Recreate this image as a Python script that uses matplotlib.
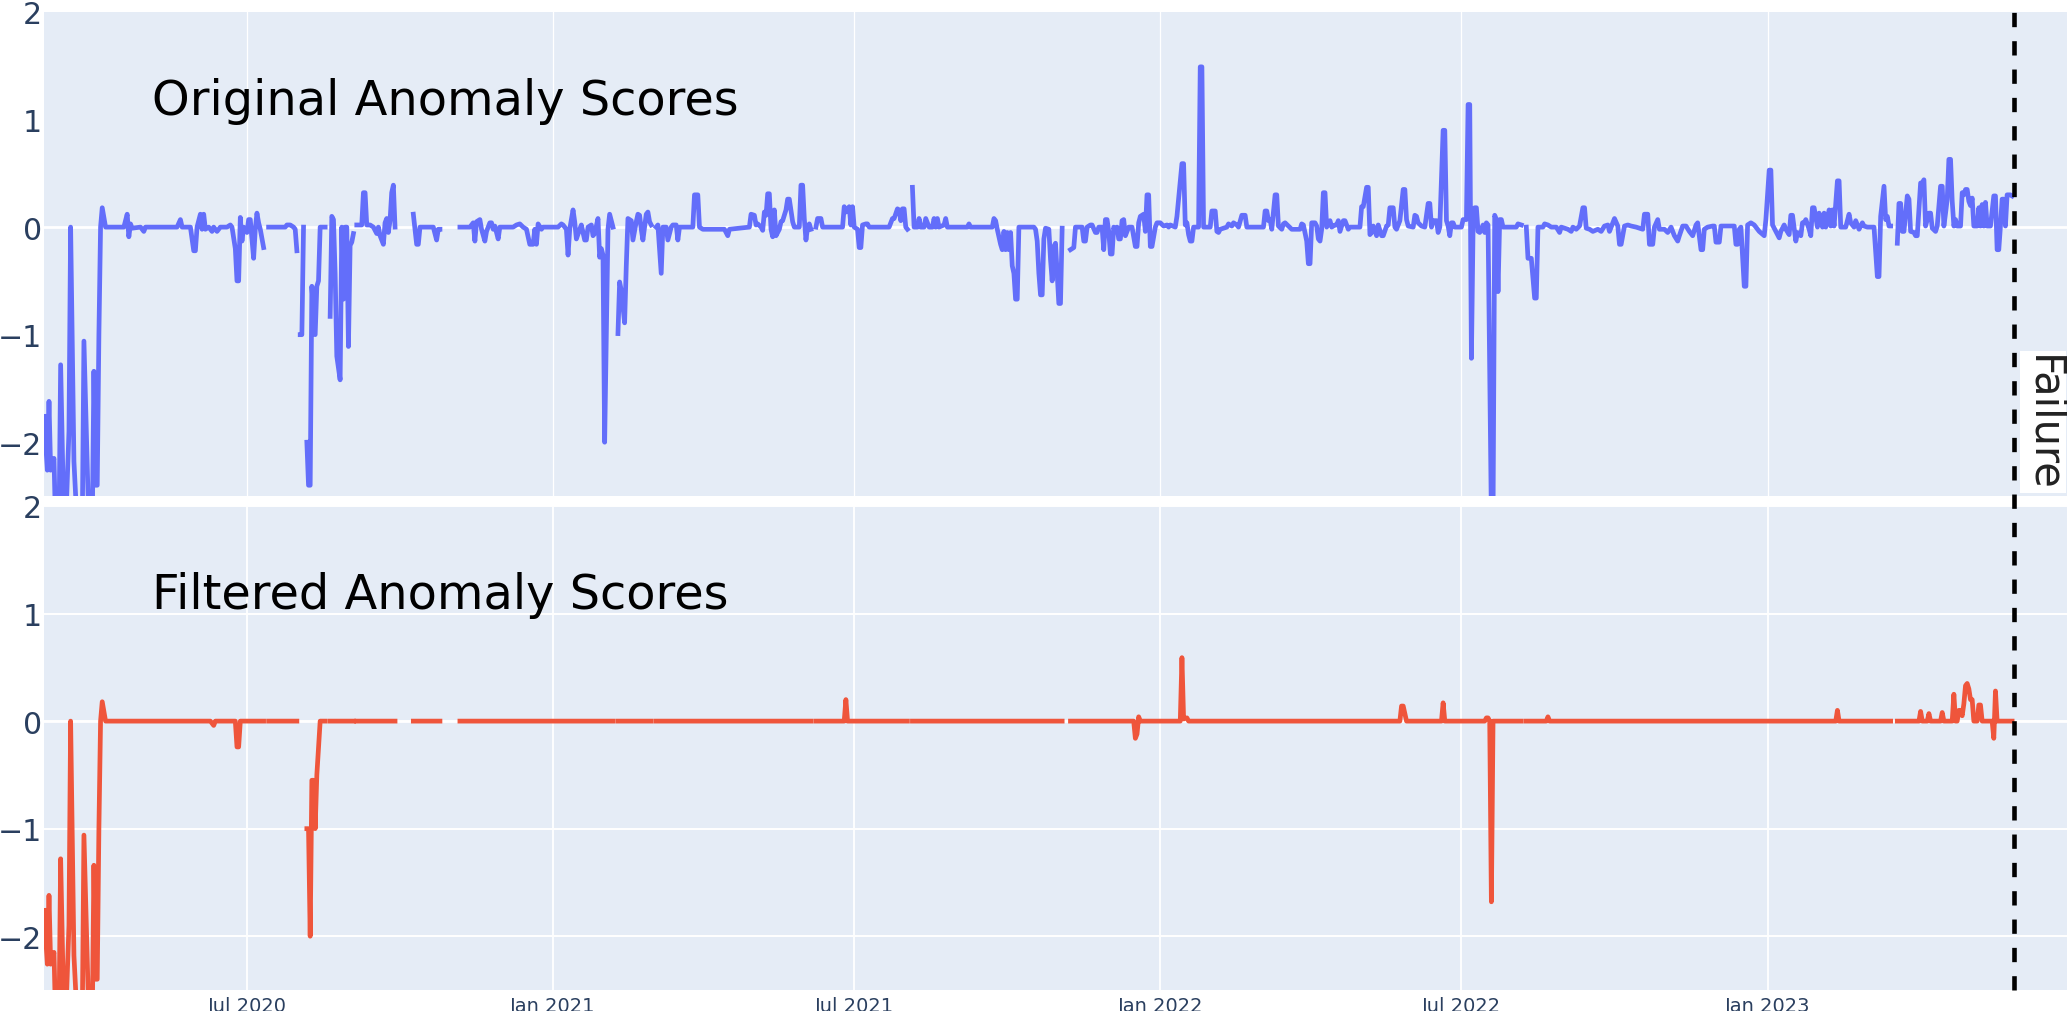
import numpy as np
import pandas as pd
import matplotlib
matplotlib.use("Agg")
import matplotlib.pyplot as plt
import matplotlib.dates as mdates
from matplotlib.lines import Line2D
from matplotlib.transforms import blended_transform_factory

plt.rcParams["font.family"] = ["DejaVu Sans"]
plt.rcParams["lines.scale_dashes"] = False

start_date = "2020-03-01"
end_date = "2023-06-30"
failure_date = "2023-05-29"

# (days since start_date, score); None = missing day
original_points = [
    (0, -1.76), (2, -2.26), (3, -1.62), (4, -2.26), (6, -2.15), (7, -2.8), (9, -2.8),
    (10, -1.28), (12, -2.8), (13, -2.8), (15, -1.9), (16, 0.0), (18, -2.18), (20, -2.8),
    (23, -2.8), (24, -1.06), (27, -2.8), (29, -2.8), (30, -1.34), (31, -2.4), (32, -2.4),
    (33, -1.0), (34, 0.0), (35, 0.18), (37, 0.0), (48, 0.0), (50, 0.12), (51, -0.09),
    (52, 0.03), (53, -0.01), (58, 0.0), (60, -0.04), (61, 0.0), (80, 0.0), (82, 0.07),
    (83, 0.0), (88, 0.0), (90, -0.22), (91, -0.22), (92, 0.0), (94, 0.12), (95, -0.02),
    (96, 0.12), (97, -0.02), (99, 0.0), (101, -0.04), (102, 0.0), (104, -0.04), (106, 0.0),
    (110, 0.0), (112, 0.02), (113, 0.0), (115, -0.2), (116, -0.5), (117, -0.5), (118, 0.09),
    (119, -0.13), (120, 0.0), (122, -0.05), (123, 0.07), (124, 0.07), (126, -0.29),
    (127, -0.02), (128, 0.13), (129, 0.04), (130, -0.02), (132, -0.19), (133, None),
    (135, 0.0), (145, 0.0), (146, 0.02), (148, 0.02), (150, 0.0), (151, -0.02), (152, -0.22),
    (153, None), (154, -1.0), (155, -1.0), (156, 0.0), (157, None), (158, -2.0), (159, -2.4),
    (160, -2.4), (161, -0.55), (163, -1.0), (164, -0.55), (165, -0.5), (166, 0.0), (169, 0.0),
    (170, None), (172, -0.83), (173, 0.1), (174, 0.07), (175, -0.43), (176, -1.2),
    (178, -1.42), (179, 0.0), (180, -0.67), (181, 0.0), (182, 0.0), (183, -1.11),
    (184, -0.17), (185, -0.14), (186, -0.06), (187, None), (188, 0.02), (191, 0.02),
    (192, 0.32), (193, 0.32), (194, 0.02), (196, 0.02), (198, 0.0), (200, -0.06), (201, 0.0),
    (202, -0.08), (204, -0.16), (205, 0.04), (206, 0.08), (207, -0.05), (208, 0.06),
    (209, 0.32), (210, 0.39), (211, 0.0), (215, None), (222, 0.12), (224, -0.16),
    (225, -0.16), (226, 0.0), (234, 0.0), (236, -0.12), (237, -0.02), (238, -0.02),
    (244, None), (250, 0.0), (256, 0.0), (258, 0.04), (259, -0.13), (260, 0.05), (262, 0.07),
    (263, -0.02), (265, -0.13), (266, -0.04), (268, 0.04), (269, 0.04), (270, -0.02),
    (271, 0.01), (273, -0.11), (274, 0.0), (282, 0.0), (284, 0.02), (286, 0.03), (288, 0.0),
    (290, -0.02), (292, -0.16), (294, -0.16), (295, -0.02), (296, -0.16), (297, 0.03),
    (299, -0.02), (300, 0.0), (309, 0.0), (311, 0.03), (312, 0.02), (314, -0.02),
    (315, -0.26), (316, -0.02), (318, 0.16), (319, 0.05), (320, -0.11), (322, -0.02),
    (323, 0.02), (325, -0.12), (326, -0.12), (327, 0.0), (329, 0.02), (330, -0.08),
    (331, -0.06), (333, 0.08), (334, -0.28), (335, -0.2), (336, -0.26), (337, -2.0),
    (339, -0.02), (340, 0.12), (342, 0.0), (343, None), (345, -0.99), (346, -0.51),
    (347, -0.59), (349, -0.89), (350, -0.36), (351, 0.08), (353, 0.06), (354, -0.12),
    (356, 0.05), (357, 0.12), (358, 0.11), (359, -0.02), (360, -0.12), (362, 0.12),
    (363, 0.14), (364, 0.05), (365, 0.02), (366, None), (368, 0.0), (369, 0.02),
    (371, -0.43), (372, 0.0), (374, 0.0), (375, -0.12), (377, 0.0), (378, 0.02), (380, 0.02),
    (381, -0.12), (382, 0.0), (390, 0.0), (391, 0.3), (393, 0.3), (394, 0.0), (396, -0.02),
    (409, -0.02), (411, -0.08), (412, -0.02), (424, 0.0), (425, 0.12), (427, 0.11),
    (428, 0.02), (429, 0.03), (431, 0.0), (432, -0.03), (433, 0.14), (434, 0.11), (435, 0.31),
    (436, 0.31), (437, -0.02), (438, -0.09), (439, 0.16), (440, -0.08), (442, -0.02),
    (443, 0.05), (444, 0.06), (446, 0.16), (447, 0.26), (448, 0.26), (450, 0.05), (451, 0.0),
    (454, 0.0), (455, 0.39), (456, 0.39), (457, 0.08), (458, -0.12), (459, 0.0), (460, 0.03),
    (461, -0.02), (462, None), (464, 0.0), (465, 0.08), (467, 0.08), (468, 0.0), (480, 0.0),
    (481, 0.19), (482, 0.14), (484, 0.19), (485, 0.02), (486, 0.19), (487, 0.0), (489, -0.02),
    (490, -0.19), (491, -0.19), (492, 0.02), (494, 0.03), (495, 0.03), (496, 0.0), (508, 0.0),
    (510, 0.08), (511, 0.08), (513, 0.17), (514, 0.16), (515, 0.06), (516, 0.17), (517, 0.17),
    (518, 0.0), (519, -0.02), (520, None), (522, 0.37), (523, 0.0), (525, 0.0), (526, 0.08),
    (527, 0.0), (529, 0.0), (530, 0.08), (532, 0.0), (534, 0.0), (535, 0.08), (536, 0.0),
    (537, 0.08), (538, 0.0), (541, 0.02), (542, 0.08), (543, 0.0), (555, 0.0), (556, 0.03),
    (557, 0.0), (570, 0.0), (571, 0.08), (572, 0.06), (573, -0.02), (575, -0.16),
    (576, -0.21), (577, -0.04), (578, -0.21), (579, -0.05), (580, -0.21), (581, -0.05),
    (582, -0.36), (583, -0.43), (584, -0.67), (585, -0.67), (586, 0.0), (595, 0.0),
    (596, -0.02), (597, -0.13), (598, -0.43), (599, -0.63), (600, -0.63), (601, -0.11),
    (602, -0.01), (604, -0.02), (605, -0.3), (606, -0.5), (607, -0.18), (608, -0.15),
    (609, -0.43), (610, -0.71), (611, -0.71), (612, -0.01), (614, None), (617, -0.21),
    (619, -0.19), (620, 0.0), (624, 0.0), (625, -0.13), (626, -0.13), (627, 0.0), (629, 0.02),
    (630, 0.02), (632, -0.05), (633, -0.05), (634, 0.0), (636, 0.0), (637, -0.21), (638, 0.07),
    (639, 0.07), (640, -0.04), (641, -0.25), (642, -0.25), (643, 0.0), (644, -0.04),
    (645, 0.0), (646, -0.11), (647, -0.11), (648, 0.06), (649, 0.07), (650, -0.08), (652, 0.0),
    (654, 0.0), (656, -0.18), (657, -0.18), (658, 0.04), (659, 0.1), (661, 0.12), (662, -0.04),
    (663, 0.3), (664, 0.3), (665, -0.18), (666, -0.18), (667, -0.09), (668, 0.0), (669, 0.04),
    (671, 0.04), (673, 0.01), (675, 0.02), (676, 0.0), (677, 0.02), (680, 0.0), (681, 0.1),
    (684, 0.59), (685, 0.59), (686, 0.02), (687, 0.04), (688, -0.07), (689, -0.13),
    (690, -0.13), (691, 0.0), (694, 0.0), (695, 1.49), (696, 1.49), (697, 0.0), (701, 0.0),
    (702, 0.15), (704, 0.15), (705, -0.04), (706, -0.05), (707, -0.02), (711, 0.0), (712, 0.03),
    (714, 0.01), (715, 0.04), (717, 0.02), (718, 0.0), (720, 0.11), (722, 0.11), (723, 0.0),
    (733, 0.0), (734, 0.15), (735, 0.15), (736, 0.06), (737, 0.07), (738, -0.02), (740, 0.3),
    (741, 0.3), (742, 0.01), (744, -0.02), (745, 0.03), (746, 0.04), (748, 0.01), (750, -0.02),
    (755, -0.02), (756, 0.03), (757, 0.02), (759, -0.13), (760, -0.34), (761, -0.34),
    (762, 0.04), (764, 0.04), (765, 0.01), (766, -0.11), (767, -0.13), (768, -0.02),
    (769, 0.32), (770, 0.32), (771, 0.0), (773, 0.06), (774, 0.0), (776, 0.02), (777, 0.02),
    (778, 0.06), (779, -0.04), (781, 0.06), (782, 0.06), (784, -0.02), (785, 0.0), (791, 0.0),
    (792, 0.19), (793, 0.19), (795, 0.37), (796, 0.37), (797, -0.07), (798, -0.05),
    (799, 0.01), (801, -0.08), (802, 0.02), (804, -0.08), (805, -0.08), (807, 0.01),
    (808, 0.02), (809, 0.18), (811, 0.18), (812, 0.0), (813, -0.02), (815, 0.06), (817, 0.35),
    (818, 0.35), (819, 0.07), (820, 0.01), (823, 0.0), (824, 0.11), (825, 0.1), (826, 0.04),
    (828, 0.01), (830, 0.0), (832, 0.22), (833, 0.22), (834, 0.0), (835, 0.06), (837, 0.06),
    (838, -0.05), (839, 0.0), (841, 0.9), (842, 0.9), (843, 0.06), (844, 0.01), (845, -0.08),
    (846, 0.04), (847, 0.04), (848, 0.0), (852, 0.0), (853, 0.07), (855, 0.07), (856, 1.14),
    (857, 1.14), (858, -1.22), (859, 0.0), (860, 0.18), (861, 0.18), (862, -0.04),
    (863, -0.05), (865, 0.02), (866, -0.05), (867, 0.04), (868, 0.02), (870, -2.7),
    (871, -2.7), (872, 0.11), (873, 0.07), (874, -0.6), (875, 0.07), (876, 0.07), (877, 0.0),
    (885, 0.0), (886, 0.03), (888, 0.02), (889, None), (891, 0.0), (892, -0.29), (894, -0.29),
    (896, -0.66), (897, -0.66), (898, 0.0), (901, 0.0), (902, 0.03), (904, 0.02), (906, 0.0),
    (909, 0.0), (911, -0.05), (912, 0.0), (916, -0.02), (918, -0.04), (919, 0.0), (921, -0.02),
    (923, 0.01), (925, 0.18), (926, 0.18), (927, -0.01), (929, -0.02), (931, -0.04),
    (934, -0.02), (936, -0.04), (938, 0.01), (940, 0.02), (941, -0.04), (942, 0.0), (944, 0.08),
    (946, 0.01), (947, -0.16), (948, -0.16), (950, 0.01), (952, 0.02), (954, 0.01), (957, 0.0),
    (961, -0.02), (962, 0.12), (964, 0.12), (965, -0.16), (967, -0.16), (968, 0.0), (970, 0.07),
    (971, -0.02), (974, -0.02), (976, -0.05), (978, 0.0), (980, -0.08), (982, -0.13),
    (983, -0.08), (985, 0.01), (987, 0.01), (989, -0.04), (991, -0.08), (993, 0.02),
    (994, 0.04), (996, -0.21), (997, -0.21), (998, -0.02), (1000, 0.0), (1003, 0.01),
    (1004, 0.01), (1005, -0.14), (1007, -0.14), (1008, 0.01), (1016, 0.01), (1017, -0.16),
    (1018, -0.16), (1019, -0.02), (1020, 0.0), (1022, -0.55), (1023, -0.55), (1024, 0.02),
    (1026, 0.04), (1028, 0.02), (1031, -0.04), (1034, -0.08), (1035, 0.07), (1037, 0.53),
    (1038, 0.53), (1039, 0.02), (1041, -0.04), (1043, -0.1), (1044, -0.04), (1046, 0.02),
    (1047, -0.02), (1049, -0.07), (1050, 0.11), (1051, 0.11), (1053, -0.13), (1054, -0.05),
    (1056, -0.08), (1057, 0.04), (1058, 0.04), (1059, 0.07), (1061, -0.02), (1062, -0.08),
    (1063, 0.18), (1064, 0.18), (1066, 0.0), (1067, 0.13), (1069, 0.0), (1070, 0.13),
    (1071, 0.0), (1073, 0.16), (1074, 0.01), (1075, 0.16), (1076, 0.01), (1078, 0.43),
    (1079, 0.43), (1080, 0.0), (1083, 0.0), (1085, 0.12), (1086, 0.04), (1088, 0.0),
    (1089, 0.06), (1091, -0.02), (1093, 0.04), (1094, 0.01), (1096, 0.0), (1100, 0.0),
    (1102, -0.46), (1103, -0.46), (1104, 0.1), (1106, 0.38), (1107, 0.07), (1108, 0.1),
    (1109, 0.01), (1110, 0.01), (1112, None), (1114, -0.15), (1115, 0.22), (1116, 0.22),
    (1117, -0.04), (1118, -0.04), (1120, 0.29), (1121, 0.26), (1122, -0.04), (1124, -0.05),
    (1125, -0.08), (1126, -0.08), (1128, 0.41), (1129, 0.41), (1130, 0.44), (1131, 0.01),
    (1132, 0.07), (1133, 0.13), (1134, 0.13), (1135, -0.01), (1137, -0.04), (1138, 0.01),
    (1140, 0.38), (1141, 0.38), (1142, 0.01), (1143, 0.13), (1144, 0.26), (1145, 0.63),
    (1146, 0.63), (1147, 0.24), (1148, 0.01), (1149, 0.07), (1150, 0.01), (1152, 0.01),
    (1153, 0.32), (1154, 0.3), (1155, 0.35), (1156, 0.35), (1157, 0.24), (1158, 0.2),
    (1159, 0.27), (1160, 0.01), (1162, 0.01), (1163, 0.18), (1164, 0.01), (1165, 0.21),
    (1166, 0.01), (1167, 0.23), (1168, 0.01), (1170, 0.01), (1172, 0.29), (1173, 0.29),
    (1174, -0.21), (1175, -0.21), (1176, 0.01), (1177, 0.26), (1178, 0.26), (1179, 0.01),
    (1180, 0.3), (1182, 0.3), (1183, 0.29),
]

filtered_points = [
    (0, -1.76), (2, -2.26), (3, -1.62), (4, -2.26), (6, -2.15), (7, -2.8), (9, -2.8),
    (10, -1.28), (12, -2.8), (13, -2.8), (15, -1.9), (16, 0.0), (18, -2.18), (20, -2.8),
    (23, -2.8), (24, -1.06), (27, -2.8), (29, -2.8), (30, -1.34), (31, -2.4), (32, -2.4),
    (33, -1.0), (34, 0.0), (35, 0.18), (37, 0.0), (100, 0.0), (102, -0.04), (103, 0.0),
    (115, 0.0), (116, -0.24), (117, -0.24), (118, 0.0), (132, 0.0), (133, None), (135, 0.0),
    (152, 0.0), (153, None), (158, -1.0), (159, -1.0), (160, -2.0), (161, -0.55),
    (162, -0.55), (163, -1.0), (164, -0.5), (166, 0.0), (169, 0.0), (170, None), (172, 0.0),
    (186, 0.0), (187, None), (188, 0.0), (211, 0.0), (215, None), (222, 0.0), (238, 0.0),
    (244, None), (250, 0.0), (342, 0.0), (343, None), (345, 0.0), (365, 0.0), (366, None),
    (368, 0.0), (461, 0.0), (462, None), (464, 0.0), (481, 0.0), (482, 0.2), (483, 0.0),
    (519, 0.0), (520, None), (522, 0.0), (612, 0.0), (614, None), (617, 0.0), (655, 0.0),
    (656, -0.16), (657, -0.12), (658, 0.04), (659, 0.0), (683, 0.0), (684, 0.59), (685, 0.02),
    (687, 0.03), (688, 0.0), (815, 0.0), (816, 0.14), (817, 0.14), (819, 0.0), (840, 0.0),
    (841, 0.17), (842, 0.0), (866, 0.0), (867, 0.03), (868, 0.03), (869, 0.0), (870, -1.68),
    (871, 0.0), (888, 0.0), (889, None), (891, 0.0), (903, 0.0), (904, 0.04), (905, 0.0),
    (1077, 0.0), (1078, 0.1), (1079, 0.0), (1110, 0.0), (1112, None), (1114, 0.0),
    (1127, 0.0), (1128, 0.09), (1129, 0.0), (1132, 0.0), (1133, 0.07), (1134, 0.0),
    (1140, 0.0), (1141, 0.08), (1142, 0.0), (1147, 0.0), (1148, 0.25), (1149, 0.0),
    (1150, 0.0), (1151, 0.1), (1152, 0.1), (1153, 0.05), (1154, 0.16), (1155, 0.33),
    (1156, 0.35), (1157, 0.3), (1158, 0.2), (1159, 0.2), (1160, 0.0), (1162, 0.0),
    (1163, 0.15), (1164, 0.15), (1165, 0.0), (1171, 0.0), (1172, -0.16), (1173, 0.28),
    (1174, 0.0), (1183, 0.0),
]

x_tick_dates = ["2020-07-01", "2021-01-01", "2021-07-01", "2022-01-01", "2022-07-01", "2023-01-01"]
x_tick_labels = ["Jul 2020", "Jan 2021", "Jul 2021", "Jan 2022", "Jul 2022", "Jan 2023"]
y_ticks = [-2, -1, 0, 1, 2]
y_tick_labels = ["\u22122", "\u22121", "0", "1", "2"]


def to_series(points):
    days = [p[0] for p in points]
    vals = np.array([np.nan if p[1] is None else p[1] for p in points], dtype=float)
    dates = pd.Timestamp(start_date) + pd.to_timedelta(days, unit="D")
    return dates, vals


orig_x, orig_y = to_series(original_points)
filt_x, filt_y = to_series(filtered_points)

W, H = 2067, 1012
fig = plt.figure(figsize=(W / 100, H / 100), dpi=100, facecolor="white")
ax1 = fig.add_axes([44 / W, 1 - 497 / H, (W - 44) / W, 484 / H])
ax2 = fig.add_axes([44 / W, 1 - 991 / H, (W - 44) / W, 484 / H], sharex=ax1)

for ax in (ax1, ax2):
    ax.set_facecolor("#E5ECF6")
    for s in ax.spines.values():
        s.set_visible(False)
    ax.set_ylim(-2.5, 2)
    ax.set_yticks(y_ticks)
    ax.set_yticklabels(y_tick_labels)
    ax.tick_params(axis="both", length=0, colors="#2a3f5f")
    ax.tick_params(axis="y", labelsize=21.6, pad=1.5)
    ax.tick_params(axis="x", labelsize=14, pad=4.3)
    ax.set_axisbelow(True)
    ax.axhline(0, color="white", lw=2.0, zorder=1)

ax1.grid(axis="x", color="white", lw=0.9)
ax2.grid(axis="x", color="white", lw=1.3)
ax2.grid(axis="y", color="white", lw=1.4)

ax1.plot(orig_x, orig_y, color="#636EFA", lw=3.4, zorder=3)
ax2.plot(filt_x, filt_y, color="#EF553B", lw=3.4, zorder=3)

ax2.set_xlim(pd.Timestamp(start_date), pd.Timestamp(end_date))
ax2.set_xticks(pd.to_datetime(x_tick_dates))
ax2.set_xticklabels(x_tick_labels)
ax1.tick_params(axis="x", labelbottom=False)

ax1.text(0.0534, 0.818, "Original Anomaly Scores", transform=ax1.transAxes,
         fontsize=34.5, ha="left", va="center", color="black")
ax2.text(0.0534, 0.818, "Filtered Anomaly Scores", transform=ax2.transAxes,
         fontsize=34.5, ha="left", va="center", color="black")

# failure marker spanning both panels
fx = mdates.date2num(pd.Timestamp(failure_date))
trans = blended_transform_factory(ax2.transData, fig.transFigure)
fig.add_artist(Line2D([fx, fx], [1 - 991 / H, 1 - 13 / H], transform=trans,
                      color="black", lw=3.3, dashes=(10.3, 10.1), zorder=5))
fig.text(2043 / W, 1 - 423 / H, "Failure", rotation=-90, ha="center", va="center",
         fontsize=30, color="#222222", zorder=6,
         bbox=dict(boxstyle="square,pad=0.05", facecolor="white", edgecolor="none"))

fig.savefig("out.png", dpi=100, facecolor="white")
